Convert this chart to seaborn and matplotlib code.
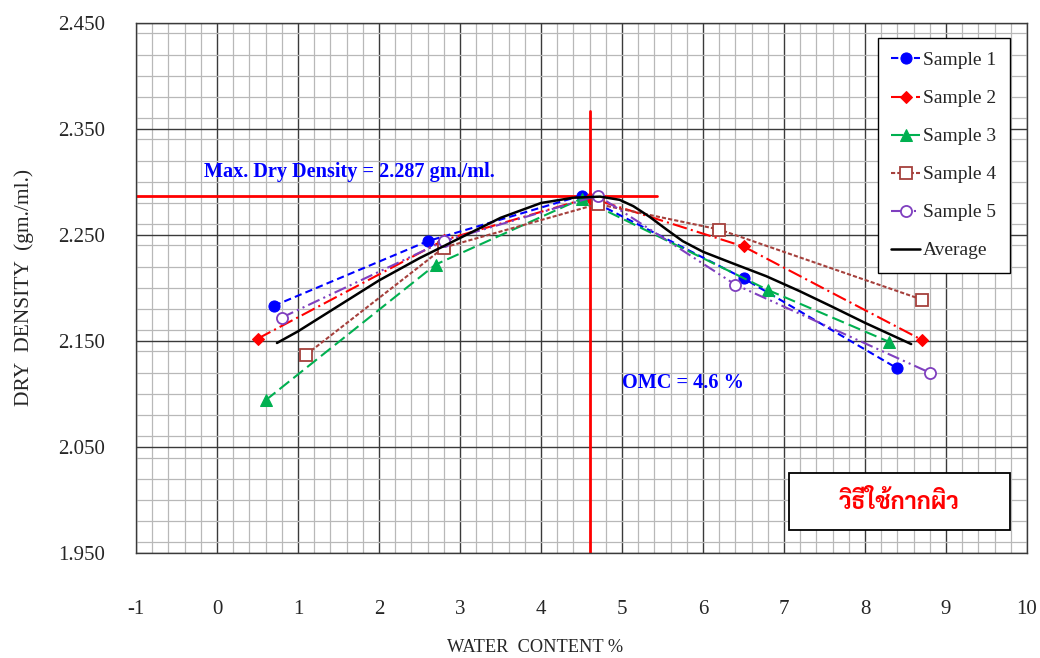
import matplotlib
matplotlib.use('Agg')
import numpy as np
import pandas as pd
import matplotlib.pyplot as plt
import seaborn as sns
from matplotlib import font_manager
from matplotlib.ticker import MultipleLocator, FormatStrFormatter
from matplotlib.patches import Rectangle

# ---------------------------------------------------------------------------
# data (water content %, dry density gm./ml.)
water_1 = [0.7, 2.6, 4.5, 6.5, 8.4]
dd_1 = [2.183, 2.244, 2.287, 2.209, 2.124]
water_2 = [0.5, 2.8, 4.6, 6.5, 8.7]
dd_2 = [2.152, 2.245, 2.285, 2.239, 2.151]
water_3 = [0.6, 2.7, 4.5, 6.8, 8.3]
dd_3 = [2.094, 2.222, 2.284, 2.198, 2.149]
water_4 = [1.1, 2.8, 4.7, 6.2, 8.7]
dd_4 = [2.137, 2.238, 2.279, 2.255, 2.189]
water_5 = [0.8, 2.8, 4.7, 6.4, 8.8]
dd_5 = [2.172, 2.244, 2.287, 2.203, 2.120]

# average curve (smoothed in the original, read at several points along it)
water_avg = [0.74, 1.0, 1.5, 2.0, 2.5, 3.0, 3.5, 4.0, 4.4, 4.73, 4.97, 5.14, 5.34, 5.55,
             5.75, 6.0, 6.37, 6.78, 7.19, 7.6, 8.0, 8.57]
dd_avg = [2.148, 2.159, 2.183, 2.207, 2.228, 2.247, 2.266, 2.280, 2.285, 2.286, 2.283, 2.277,
          2.267, 2.255, 2.244, 2.234, 2.223, 2.211, 2.197, 2.182, 2.167, 2.147]

max_dd = 2.287          # max dry density
omc = 4.6               # optimum moisture content
max_dd_line_end = 5.43  # horizontal guide stops here
omc_line_top = 2.367    # vertical guide stops here

labels = ['Sample 1', 'Sample 2', 'Sample 3', 'Sample 4', 'Sample 5']
x_ticks = np.arange(-1, 11, 1)
y_ticks = [1.950, 2.050, 2.150, 2.250, 2.350, 2.450]

# ---------------------------------------------------------------------------
sns.set_style('white')
plt.rcParams['font.family'] = ['Liberation Serif', 'DejaVu Serif']
plt.rcParams['axes.unicode_minus'] = False

available = {f.name for f in font_manager.fontManager.ttflist}
thai_font = 'DejaVu Sans'
for name in ['Sarabun', 'Noto Serif Thai', 'Taviraj', 'Trirong', 'Noto Sans Thai Looped', 'Athiti']:
    if name in available:
        thai_font = name
        break

styles = {
    'Sample 1': dict(color='#0000FF', marker='o', markersize=8, markerfacecolor='#0000FF',
                     markeredgecolor='#0000FF', linestyle=(0, (3.5, 2))),
    'Sample 2': dict(color='#FF0000', marker='D', markersize=6, markerfacecolor='#FF0000',
                     markeredgecolor='#FF0000', linestyle=(0, (7, 2, 1, 2))),
    'Sample 3': dict(color='#00B050', marker='^', markersize=8, markerfacecolor='#00B050',
                     markeredgecolor='#00B050', linestyle=(0, (6, 2.5))),
    'Sample 4': dict(color='#A5403C', marker='s', markersize=8, markerfacecolor='white',
                     markeredgecolor='#A5403C', markeredgewidth=1.3, linestyle=(0, (2, 1))),
    'Sample 5': dict(color='#7F3FBF', marker='o', markersize=8, markerfacecolor='white',
                     markeredgecolor='#7F3FBF', markeredgewidth=1.3, linestyle=(0, (6, 2, 1, 2, 1, 2))),
}
series = [(water_1, dd_1), (water_2, dd_2), (water_3, dd_3), (water_4, dd_4), (water_5, dd_5)]

fig = plt.figure(figsize=(10.4, 6.58), dpi=100)
ax = fig.add_axes([0.1308, 0.1596, 0.8567, 0.8059])

for name, (wx, dy) in zip(labels, series):
    df = pd.DataFrame({'water': wx, 'dd': dy})
    sns.lineplot(data=df, x='water', y='dd', ax=ax, sort=False, estimator=None,
                 lw=1.5, label=name, zorder=3, **styles[name])

df_avg = pd.DataFrame({'water': water_avg, 'dd': dd_avg})
sns.lineplot(data=df_avg, x='water', y='dd', ax=ax, sort=False, estimator=None,
             color='black', lw=1.8, label='Average', zorder=4)

# guide lines for max dry density and OMC
ax.plot([x_ticks[0], max_dd_line_end], [max_dd, max_dd], color='#FF0000', lw=2, zorder=2)
ax.plot([omc, omc], [y_ticks[0], omc_line_top], color='#FF0000', lw=2, zorder=2)

ax.text(-0.16, 2.309, 'Max. Dry Density = %.3f gm./ml.' % max_dd, color='#0000FF',
        fontsize=14.6, fontweight='bold', va='center', ha='left')
ax.text(5.0, 2.110, 'OMC = %.1f %%' % omc, color='#0000FF',
        fontsize=14.6, fontweight='bold', va='center', ha='left')

# method box
ax.add_patch(Rectangle((0.733, 0.0434), 0.248, 0.1076, transform=ax.transAxes,
                       facecolor='white', edgecolor='black', lw=1.3, zorder=5))
ax.text(0.857, 0.097, 'วิธีใช้กากผิว', transform=ax.transAxes, color='#FF0000',
        fontsize=17, fontweight='bold', family=[thai_font, 'DejaVu Sans'],
        ha='center', va='center', zorder=6)

ax.set_xlim(-1, 10)
ax.set_ylim(1.95, 2.45)
ax.set_xticks(x_ticks)
ax.set_yticks(y_ticks)
ax.xaxis.set_minor_locator(MultipleLocator(0.2))
ax.yaxis.set_minor_locator(MultipleLocator(0.02))
ax.yaxis.set_major_formatter(FormatStrFormatter('%.3f'))
ax.set_axisbelow(True)
ax.grid(which='major', color='#3a3a3a', lw=1.0)
ax.grid(which='minor', color='#b8b8b8', lw=0.9)
for s in ax.spines.values():
    s.set_color('#3a3a3a')
    s.set_linewidth(1.0)

ax.tick_params(which='major', direction='out', length=7, color='#3a3a3a', width=1,
               labelsize=15)
ax.tick_params(axis='x', which='major', pad=27)
ax.tick_params(axis='y', which='major', pad=15)
ax.tick_params(which='minor', length=0)

ax.set_xlabel('WATER  CONTENT %', fontsize=13.2)
ax.set_ylabel('DRY  DENSITY  (gm./ml.)', fontsize=15.5)
ax.xaxis.set_label_coords(0.448, -0.163)
ax.yaxis.set_label_coords(-0.115, 0.5)

handles, lbls = ax.get_legend_handles_labels()
leg = ax.legend(handles, lbls, loc='upper right', bbox_to_anchor=(0.981, 0.971),
                borderaxespad=0, fontsize=14, frameon=True, fancybox=False,
                framealpha=1, edgecolor='black', labelspacing=1.05, handlelength=1.5,
                handletextpad=0.15, borderpad=0.7)
leg.get_frame().set_linewidth(1.0)
leg.set_zorder(6)

fig.savefig('out.png', dpi=100)
